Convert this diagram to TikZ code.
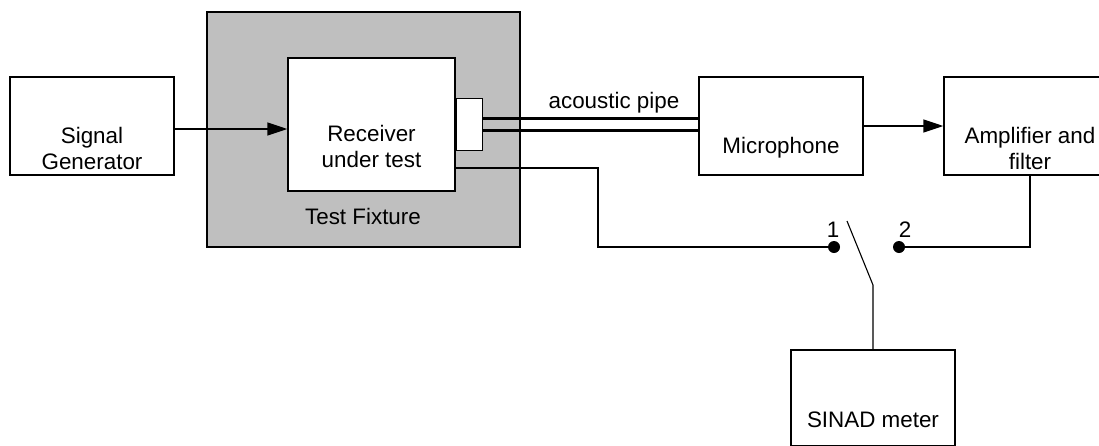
\documentclass[tikz,border=0pt]{standalone}
\usepackage{fontspec}
\setmainfont{Liberation Sans}
\usetikzlibrary{arrows.meta}
\begin{document}
\begin{tikzpicture}[x=0.5pt,y=-0.5pt,
  blk/.style={draw,line width=0.7pt,fill=white,inner sep=0pt,minimum width=82pt,minimum height=49pt},
  blktext/.style={align=center,yshift=-11pt,inner sep=0pt,font=\fontsize{11.2}{13}\selectfont},
  txt/.style={inner sep=0pt,font=\fontsize{11.2}{13}\selectfont},
  wire/.style={line width=0.55pt},
  sig/.style={line width=0.8pt,-{Triangle[length=10pt,width=6.5pt]}},
  pipe/.style={line width=1.2pt},
  pin/.style={circle,fill=black,inner sep=0pt,minimum size=6pt}]
\definecolor{fixgray}{rgb}{0.75,0.75,0.75}
\clip (0,0) rectangle (1099,445);
\node[blk,fill=fixgray,minimum width=156.5pt,minimum height=117.5pt] (fix) at (363.5,129.5) {};
\node[txt] (fixlbl) at (363,216) {Test Fixture};
\node[blk,label={[blktext]center:Signal\\Generator}] (sg) at (92,126) {};
\node[blk,minimum width=83.5pt,minimum height=66.5pt,label={[blktext]center:Receiver\\under test}] (rut) at (371.5,124.5) {};
\node[blk,anchor=west,minimum width=13pt,minimum height=26pt] (port) at (rut.east) {};
\node[blk,label={[blktext]center:Microphone}] (mic) at (781,126) {};
\node[blk,minimum width=86pt,label={[blktext]center:Amplifier and\\filter}] (amp) at (1030,126) {};
\node[blk,minimum height=48pt,label={[blktext]center:SINAD meter}] (meter) at (873,398) {};
\draw[sig] ([yshift=-1.5pt]sg.east) -- ([yshift=-1.5pt]sg.east -| rut.west);
\draw[sig] (mic.east) -- (amp.west);
\draw[pipe] ([yshift=3pt]port.east) -- ([yshift=3pt]port.east -| mic.west);
\draw[pipe] ([yshift=-3pt]port.east) -- ([yshift=-3pt]port.east -| mic.west);
\node[txt] (pipelbl) at (614,103) {acoustic pipe};
\coordinate (rutout) at ([yshift=-21.75pt]rut.east);
\coordinate (jog) at (598,247);
\node[pin] (p1) at (834,247) {};
\node[pin] (p2) at (899,247) {};
\node[txt] (n1) at (833,230) {1};
\node[txt] (n2) at (905,230) {2};
\coordinate (swtip) at (847,221);
\coordinate (swknee) at (873,285);
\draw[wire] (rutout) -| (jog) -- (p1);
\draw[wire] (p2) -| (amp.south);
\draw[wire] (swtip) -- (swknee) -- (meter.north);
\end{tikzpicture}
\end{document}
